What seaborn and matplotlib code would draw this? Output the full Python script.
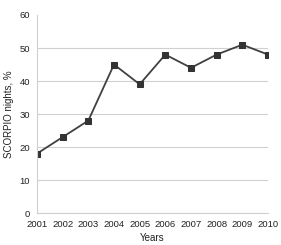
import matplotlib
matplotlib.use("Agg")
import matplotlib.pyplot as plt
import seaborn as sns
import pandas as pd

years = [2001, 2002, 2003, 2004, 2005, 2006, 2007, 2008, 2009, 2010]
values = [18, 23, 28, 45, 39, 48, 44, 48, 51, 48]
yticks = [0, 10, 20, 30, 40, 50, 60]

sns.set_style("white")
plt.rcParams['font.family'] = ['Liberation Sans', 'DejaVu Sans']

df = pd.DataFrame({"year": years, "value": values})

fig = plt.figure(figsize=(2.81, 2.45), dpi=100)
ax = fig.add_axes([37/281, 1-213/245, (268-37)/281, (213-15)/245])
sns.lineplot(data=df, x="year", y="value", ax=ax, color="#404040", linewidth=1.3,
             marker="s", markersize=5, markerfacecolor="#333333", markeredgecolor="#333333")

ax.set_xlim(2001, 2010)
ax.set_ylim(0, 60)
ax.set_yticks(yticks)
ax.set_xticks(years)
ax.set_xticklabels([str(y) for y in years])
ax.grid(axis="y", color="#d0d0d0", linewidth=0.8)
gl = ax.get_ygridlines()
gl[-1].set_visible(False)
ax.set_axisbelow(True)
for s in ["top", "right"]:
    ax.spines[s].set_visible(False)
ax.spines["left"].set_color("#d0d0d0")
ax.spines["bottom"].set_color("#d0d0d0")
ax.spines["left"].set_linewidth(0.8)
ax.spines["bottom"].set_linewidth(0.8)
ax.tick_params(axis="x", length=3, color="#d0d0d0", labelsize=6.8, pad=2, labelcolor="#222222")
ax.tick_params(axis="y", length=3, color="#d0d0d0", labelsize=6.8, pad=2, labelcolor="#222222")
ax.set_xlabel("Years", fontsize=7, color="#222222", labelpad=3)
ax.set_ylabel("SCORPIO nights, %", fontsize=7, color="#222222", labelpad=4)

fig.savefig("out.png", dpi=100)
